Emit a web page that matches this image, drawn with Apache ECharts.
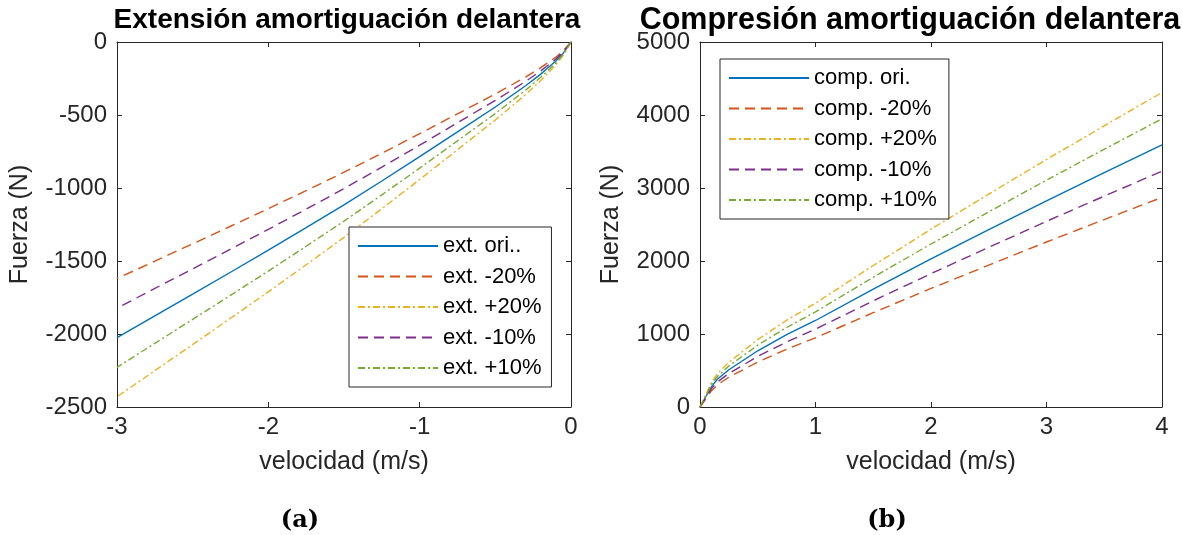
<!DOCTYPE html>
<html>
<head>
<meta charset="utf-8">
<script src="https://cdn.jsdelivr.net/npm/echarts@6/dist/echarts.min.js"></script>
<style>
html,body{margin:0;padding:0;background:#fff;}
#c{width:1183px;height:535px;}
</style>
</head>
<body>
<div id="c"></div>
<script>
// ---- Extension (left) ----
const extX   = [0, -0.05, -0.1, -0.15, -0.2, -0.3, -0.5, -0.75, -1, -1.25, -1.5, -1.75, -2, -2.25, -2.5, -2.75, -3];
const extOri = [0, -75, -130, -175, -220, -300, -445, -615, -785, -952, -1115, -1272, -1426, -1577, -1727, -1876, -2025];
const extM20 = [0, -60, -104, -140, -176, -240, -356, -492, -628, -762, -892, -1018, -1141, -1262, -1382, -1501, -1620];
const extP20 = [0, -90, -156, -210, -264, -360, -534, -738, -942, -1142, -1338, -1526, -1711, -1892, -2072, -2251, -2430];
const extM10 = [0, -68, -117, -158, -198, -270, -400, -553, -707, -857, -1004, -1145, -1283, -1419, -1554, -1688, -1823];
const extP10 = [0, -83, -143, -193, -242, -330, -490, -677, -864, -1047, -1227, -1399, -1569, -1735, -1900, -2064, -2228];
const extNames = ['ext. ori..', 'ext. -20%', 'ext. +20%', 'ext. -10%', 'ext. +10%'];

// ---- Compression (right) ----
const compX   = [0, 0.05, 0.1, 0.15, 0.25, 0.5, 0.75, 1, 1.5, 2, 2.5, 3, 3.5, 4];
const compOri = [0, 140, 280, 380, 510, 770, 990, 1185, 1615, 2030, 2430, 2825, 3210, 3590];
const compM20 = [0, 112, 224, 304, 408, 616, 792, 948, 1292, 1624, 1944, 2260, 2568, 2872];
const compP20 = [0, 168, 336, 456, 612, 924, 1188, 1422, 1938, 2436, 2916, 3390, 3852, 4308];
const compM10 = [0, 126, 252, 342, 459, 693, 891, 1067, 1454, 1827, 2187, 2543, 2889, 3231];
const compP10 = [0, 154, 308, 418, 561, 847, 1089, 1304, 1777, 2233, 2673, 3108, 3531, 3949];
const compNames = ['comp. ori.', 'comp. -20%', 'comp. +20%', 'comp. -10%', 'comp. +10%'];

const titles = ['Extensión amortiguación delantera', 'Compresión amortiguación delantera'];
const captions = ['(a)', '(b)'];
const xName = 'velocidad (m/s)';
const yName = 'Fuerza (N)';

const colors = ['#0072BD', '#D95319', '#EDB120', '#7E2F8E', '#77AC30'];
const dashes = ['solid', [10, 6], [7, 3, 2, 3], [10, 6], [7, 3, 2, 3]];
const FONT = 'Liberation Sans, Arial, Helvetica, sans-serif';
const AX = '#262626';

function pairs(xs, ys) { return xs.map((x, i) => [x, ys[i]]); }

function mkSeries(names, xs, ysList, xi, yi) {
  return ysList.map((ys, k) => ({
    type: 'line', name: names[k], xAxisIndex: xi, yAxisIndex: yi,
    data: pairs(xs, ys), symbol: 'none', smooth: false,
    lineStyle: {color: colors[k], width: 1.4, type: dashes[k]},
    itemStyle: {color: colors[k]}, z: 2, animation: false
  }));
}

const plain = v => String(v);

function xAx(grid, min, max, pos, main) {
  return {
    type: 'value', gridIndex: grid, min: min, max: max, interval: 1, position: pos,
    splitLine: {show: false},
    axisLine: {show: true, onZero: false, lineStyle: {color: AX, width: 1}},
    axisTick: {show: true, inside: true, length: 5, lineStyle: {color: AX}},
    axisLabel: {show: main, color: AX, fontSize: 24, fontFamily: FONT, margin: 8, formatter: plain},
    name: main ? xName : '', nameLocation: 'middle', nameGap: 43,
    nameTextStyle: {color: AX, fontSize: 25, fontFamily: FONT}
  };
}
function yAx(grid, min, max, interval, pos, main, gap) {
  return {
    type: 'value', gridIndex: grid, min: min, max: max, interval: interval, position: pos,
    splitLine: {show: false},
    axisLine: {show: true, onZero: false, lineStyle: {color: AX, width: 1}},
    axisTick: {show: true, inside: true, length: 5, lineStyle: {color: AX}},
    axisLabel: {show: main, color: AX, fontSize: 24, fontFamily: FONT, margin: 10, formatter: plain},
    name: main ? yName : '', nameLocation: 'middle', nameGap: gap,
    nameTextStyle: {color: AX, fontSize: 25, fontFamily: FONT}
  };
}

const legendCommon = {
  orient: 'vertical', itemWidth: 80, itemHeight: 14, itemGap: 8.5,
  borderColor: AX, borderWidth: 1, borderRadius: 0, backgroundColor: '#fff',
  textStyle: {fontSize: 22, color: '#000', fontFamily: FONT, lineHeight: 22},
  itemStyle: {opacity: 0},
  z: 10
};

const chart = echarts.init(document.getElementById('c'), null, {renderer: 'canvas'});
chart.setOption({
  animation: false,
  backgroundColor: '#fff',
  title: [
    {text: titles[0], left: 342, top: 1, textAlign: 'center', textStyle: {fontSize: 28, fontWeight: 'bold', color: '#000', fontFamily: FONT}},
    {text: titles[1], left: 905, top: 0, textAlign: 'center', textStyle: {fontSize: 30.5, fontWeight: 'bold', color: '#000', fontFamily: FONT}},
    {text: captions[0], left: 295, top: 504, textAlign: 'center', textStyle: {fontSize: 24, fontWeight: 'bold', color: '#000', fontFamily: 'DejaVu Serif, serif'}},
    {text: captions[1], left: 882, top: 504, textAlign: 'center', textStyle: {fontSize: 24, fontWeight: 'bold', color: '#000', fontFamily: 'DejaVu Serif, serif'}}
  ],
  grid: [
    {left: 117, top: 42, width: 454, height: 365, containLabel: false},
    {left: 700, top: 42, width: 462, height: 365, containLabel: false}
  ],
  xAxis: [
    xAx(0, -3, 0, 'bottom', true), xAx(0, -3, 0, 'top', false),
    xAx(1, 0, 4, 'bottom', true), xAx(1, 0, 4, 'top', false)
  ],
  yAxis: [
    yAx(0, -2500, 0, 500, 'left', true, 84), yAx(0, -2500, 0, 500, 'right', false, 0),
    yAx(1, 0, 5000, 1000, 'left', true, 76), yAx(1, 0, 5000, 1000, 'right', false, 0)
  ],
  legend: [
    Object.assign({}, legendCommon, {data: extNames, left: 349, top: 227, padding: [8, 10, 8, 8]}),
    Object.assign({}, legendCommon, {data: compNames, left: 720, top: 59, padding: [8, 12, 8, 8]})
  ],
  series: [].concat(
    mkSeries(extNames, extX, [extOri, extM20, extP20, extM10, extP10], 0, 0),
    mkSeries(compNames, compX, [compOri, compM20, compP20, compM10, compP10], 2, 2)
  )
});
</script>
</body>
</html>
